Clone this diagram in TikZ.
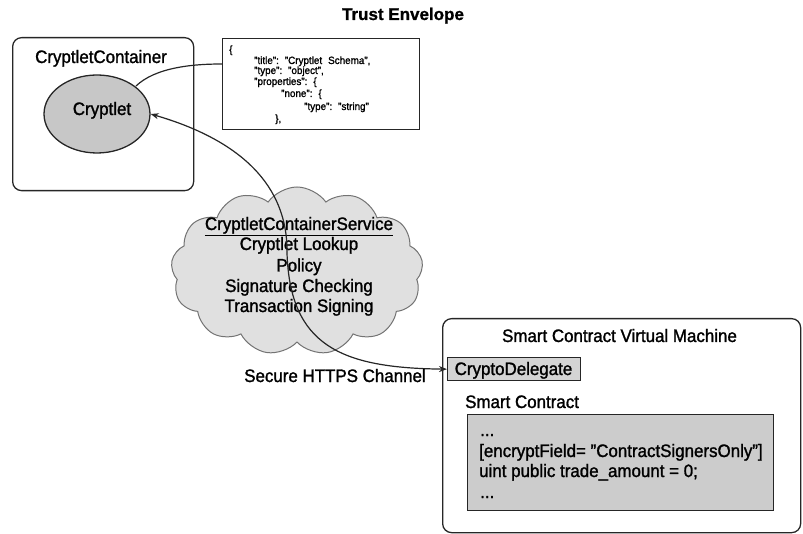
\documentclass[tikz,border=0pt]{standalone}
\usepackage{fontspec}
\setmainfont[FakeStretch=0.94,FakeBold=1.4]{Liberation Sans}
\newfontfamily\titlefont[FakeBold=1]{Liberation Sans Bold}
\usetikzlibrary{shapes.geometric,shapes.symbols,arrows.meta}
\newcommand{\gap}{\hspace*{6pt}}
\begin{document}
\begin{tikzpicture}[x=1pt,y=-1pt,
  lbl/.style={font=\fontsize{18}{20}\selectfont,inner sep=0pt,anchor=base},
  json/.style={font=\fontsize{10.5}{11}\selectfont,inner sep=0pt,anchor=base west},
  roundbox/.style={draw=black!85,line width=1.3pt,rounded corners=9pt,anchor=north west},
  plainbox/.style={draw=black!85,line width=1.3pt,anchor=north west,inner sep=0pt},
  link/.style={draw=black!85,line width=1.2pt},
  tip/.style={{Stealth[length=8pt,width=6pt]}-{Stealth[length=8pt,width=6pt]}}]
\useasboundingbox (0,0) rectangle (803,534);
% title
\node[font=\titlefont\fontsize{17}{18}\selectfont,inner sep=0pt,anchor=base] (title) at (403,20) {Trust Envelope};
% cryptlet container
\node[roundbox,minimum width=181,minimum height=153] (container) at (12,37) {};
\node[lbl] (containerlbl) at (101,63) {CryptletContainer};
\node[ellipse,draw=black!85,line width=1.3pt,fill=black!22,minimum width=106,minimum height=78] (cryptlet) at (97,114) {};
\node[lbl] (cryptletlbl) at (102,115) {Cryptlet};
% schema box
\node[plainbox,minimum width=197,minimum height=91] (schema) at (222,38) {};
\node[json] (j1) at (229,53) {\{};
\node[json] (j2) at (254,64) {"title":\gap"Cryptlet\gap Schema",};
\node[json] (j3) at (254,74) {"type":\gap"object",};
\node[json] (j4) at (254,85) {"properties":\gap\{};
\node[json] (j5) at (281,97) {"none":\gap\{};
\node[json] (j6) at (304,110) {"type":\gap"string"};
\node[json] (j7) at (275,122) {\},};
\coordinate (schemaport) at (222,64);
\coordinate (cryptletport) at (136,86);
\draw[link] (schemaport) .. controls (190,64) and (155,68) .. (cryptletport);
% cloud
\node[cloud,cloud puffs=13,cloud puff arc=110,aspect=1.55,draw=black!55,line width=1pt,fill=black!12,
  minimum width=252,minimum height=168] (cloud) at (297,271) {};
\node[lbl] (svc1) at (299,230) {\underline{CryptletContainerService}};
\node[lbl] (svc2) at (299,250) {Cryptlet Lookup};
\node[lbl] (svc3) at (299,271.5) {Policy};
\node[lbl] (svc4) at (299,292) {Signature Checking};
\node[lbl] (svc5) at (299,312) {Transaction Signing};
% smart contract virtual machine
\node[roundbox,minimum width=358,minimum height=214] (vm) at (442,318) {};
\node[lbl] (vmlbl) at (619.5,342) {Smart Contract Virtual Machine};
\node[plainbox,fill=black!17,minimum width=133,minimum height=23] (delegate) at (447,357) {};
\node[lbl] (delegatelbl) at (513.5,375) {CryptoDelegate};
\node[lbl,anchor=base west] (contractlbl) at (465,408) {Smart Contract};
\node[plainbox,fill=black!20,minimum width=306,minimum height=96] (code) at (467,414) {};
\node[lbl,anchor=base west] (c1) at (480,436) {...};
\node[lbl,anchor=base west] (c2) at (479,457) {{[}encryptField= "ContractSignersOnly"{]}};
\node[lbl,anchor=base west] (c3) at (479,477) {uint public trade\_amount = 0;};
\node[lbl,anchor=base west] (c4) at (480,498) {...};
% secure channel between cryptlet and delegate
\coordinate (bend) at (287,253);
\draw[link,tip] (cryptlet.east) .. controls (240,140) and (288,185) .. (bend)
  .. controls (290,345) and (340,368) .. (delegate.west);
\node[lbl] (channel) at (335,382) {Secure HTTPS Channel};
\end{tikzpicture}
\end{document}
